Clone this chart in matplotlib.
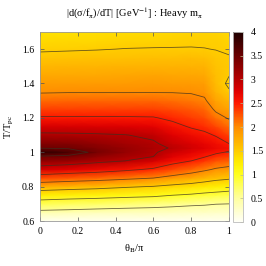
import numpy as np
import matplotlib
matplotlib.use("Agg")
import matplotlib.pyplot as plt
from matplotlib.colors import LinearSegmentedColormap
from matplotlib.ticker import FuncFormatter

# theta_B / pi columns and T/T_pc rows of the map
theta = [0.0, 0.15, 0.3, 0.45, 0.6, 0.7, 0.8, 0.87, 0.93, 1.0]
t_rows = [0.6, 0.65, 0.7, 0.75, 0.8, 0.85, 0.9, 0.95, 0.975, 1.0, 1.025, 1.05,
          1.1, 1.15, 1.2, 1.25, 1.3, 1.35, 1.4, 1.45, 1.5, 1.55, 1.6, 1.65, 1.7]

# |d(sigma/f_pi)/dT|, one list per theta column
col_000 = [0.05, 0.40, 0.81, 1.23, 1.72, 2.29, 2.82, 3.25, 3.45, 3.90, 3.48, 3.35, 3.07,
           2.80, 2.53, 2.34, 2.15, 1.98, 1.88, 1.77, 1.66, 1.56, 1.47, 1.40, 1.33]
col_015 = [0.05, 0.38, 0.76, 1.19, 1.66, 2.22, 2.74, 3.21, 3.42, 3.71, 3.46, 3.33, 3.06,
           2.80, 2.53, 2.34, 2.16, 1.99, 1.88, 1.78, 1.68, 1.57, 1.48, 1.41, 1.34]
col_030 = [0.05, 0.35, 0.72, 1.16, 1.61, 2.16, 2.67, 3.09, 3.24, 3.41, 3.34, 3.24, 3.04,
           2.79, 2.53, 2.34, 2.16, 1.99, 1.89, 1.78, 1.68, 1.58, 1.49, 1.42, 1.36]
col_045 = [0.05, 0.33, 0.68, 1.11, 1.54, 2.08, 2.57, 3.00, 3.10, 3.21, 3.21, 3.14, 3.01,
           2.78, 2.53, 2.34, 2.16, 1.99, 1.89, 1.79, 1.69, 1.59, 1.505, 1.44, 1.38]
col_060 = [0.05, 0.32, 0.64, 1.07, 1.48, 2.00, 2.45, 2.82, 3.00, 3.04, 3.07, 3.04, 2.94,
           2.73, 2.52, 2.34, 2.17, 1.99, 1.90, 1.80, 1.70, 1.60, 1.51, 1.45, 1.40]
col_070 = [0.05, 0.31, 0.60, 1.00, 1.40, 1.88, 2.30, 2.62, 2.74, 2.86, 2.98, 2.90, 2.75,
           2.59, 2.44, 2.29, 2.14, 1.99, 1.89, 1.79, 1.70, 1.60, 1.51, 1.46, 1.42]
col_080 = [0.05, 0.29, 0.56, 0.95, 1.34, 1.77, 2.17, 2.50, 2.61, 2.72, 2.83, 2.79, 2.63,
           2.47, 2.35, 2.22, 2.09, 1.98, 1.88, 1.79, 1.70, 1.61, 1.51, 1.47, 1.44]
col_087 = [0.05, 0.29, 0.54, 0.90, 1.28, 1.68, 2.06, 2.38, 2.52, 2.63, 2.74, 2.69, 2.56,
           2.42, 2.29, 2.17, 2.04, 1.94, 1.86, 1.77, 1.69, 1.60, 1.505, 1.47, 1.45]
col_093 = [0.05, 0.28, 0.51, 0.87, 1.23, 1.60, 1.96, 2.26, 2.41, 2.55, 2.67, 2.62, 2.48,
           2.30, 2.11, 1.95, 1.82, 1.70, 1.63, 1.60, 1.57, 1.54, 1.495, 1.47, 1.45]
col_100 = [0.05, 0.28, 0.50, 0.83, 1.19, 1.55, 1.90, 2.19, 2.33, 2.47, 2.59, 2.50, 2.32,
           2.14, 1.97, 1.82, 1.68, 1.53, 1.45, 1.51, 1.53, 1.51, 1.48, 1.45, 1.42]

levels = [0.5, 1.0, 1.5, 2.0, 2.5, 3.0, 3.5]
x_ticks = [0, 0.2, 0.4, 0.6, 0.8, 1]
y_ticks = [0.6, 0.8, 1.0, 1.2, 1.4, 1.6]
cb_ticks = [0, 0.5, 1, 1.5, 2, 2.5, 3, 3.5, 4]

plt.rcParams['font.family'] = ['Liberation Serif', 'DejaVu Serif']
plt.rcParams['mathtext.fontset'] = 'stix'

cols = [col_000, col_015, col_030, col_045, col_060, col_070, col_080, col_087, col_093, col_100]
Z = np.array(cols).T

cmap = LinearSegmentedColormap.from_list('heat', [
    (0.0, (1.0, 1.0, 0.97)),
    (0.125, (1.0, 1.0, 0.62)),
    (0.25, (1.0, 1.0, 0.12)),
    (0.3125, (1.0, 0.93, 0.0)),
    (0.375, (1.0, 0.80, 0.0)),
    (0.5, (1.0, 0.55, 0.0)),
    (0.625, (1.0, 0.10, 0.0)),
    (0.6875, (0.88, 0.0, 0.0)),
    (0.75, (0.72, 0.0, 0.0)),
    (0.875, (0.42, 0.0, 0.0)),
    (1.0, (0.12, 0.0, 0.0)),
])

fig = plt.figure(figsize=(2.66, 2.66), dpi=100)
ax = fig.add_axes([0.150, 0.169, 0.711, 0.711])
cax = fig.add_axes([0.876, 0.165, 0.036, 0.715])

mesh = ax.pcolormesh(theta, t_rows, Z, cmap=cmap, vmin=0, vmax=4, shading='gouraud')
ax.contour(theta, t_rows, Z, levels=levels, colors='#3a3020', linewidths=0.6, alpha=0.75)

ax.set_xlim(0, 1)
ax.set_ylim(0.6, 1.7)
ax.set_xticks(x_ticks)
ax.set_yticks(y_ticks)
fmt = FuncFormatter(lambda v, p: '%g' % v)
ax.xaxis.set_major_formatter(fmt)
ax.yaxis.set_major_formatter(fmt)
ax.tick_params(direction='in', length=3, width=0.5, labelsize=7, color='#555555',
               top=True, right=True, pad=4)
for s in ax.spines.values():
    s.set_color('#999999')
    s.set_linewidth(0.6)

ax.set_xlabel(r'θ$_\mathrm{B}$/π', fontsize=7.5, labelpad=5)
ax.set_ylabel(r'T/T$_\mathrm{pc}$', fontsize=7.5, labelpad=4)
ax.set_title(r'|d(σ/f$_\mathrm{π}$)/dT| [GeV$^{-1}$] : Heavy m$_\mathrm{π}$', fontsize=7.5, pad=11)

cb = fig.colorbar(mesh, cax=cax, ticks=cb_ticks, format=fmt)
cb.outline.set_edgecolor('#bbbbbb')
cb.outline.set_linewidth(0.6)
cax.tick_params(direction='in', length=2, width=0.5, labelsize=7, color='#bbbb88', pad=6)

fig.savefig('out.png', dpi=100)
